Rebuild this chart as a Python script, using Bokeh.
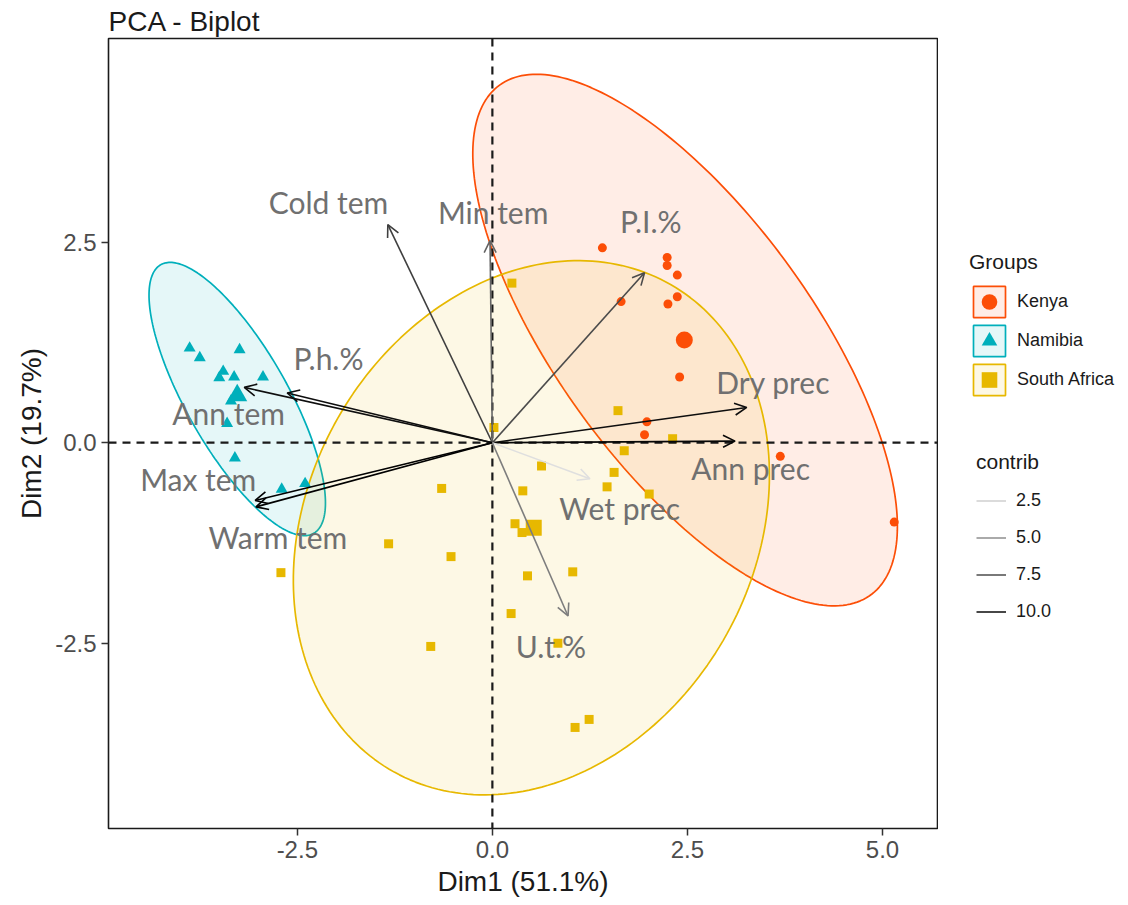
import numpy as np
from bokeh.plotting import figure
from bokeh.layouts import row
from bokeh.models import (Range1d, FixedTicker, PrintfTickFormatter, Span, Arrow, OpenHead,
                          Legend, LegendItem)
from bokeh.core.properties import value
from bokeh.embed import file_html
from bokeh.resources import INLINE

# ---------------- data ----------------
groups = ["Kenya", "Namibia", "South Africa"]
group_colors = ["#FC4E07", "#00AFBB", "#E7B800"]
group_markers = ["circle", "triangle", "square"]

kenya_x = [1.41, 2.24, 2.24, 2.37, 1.65, 2.25, 2.37, 2.40, 1.98, 1.95, 3.69, 5.15]
kenya_y = [2.43, 2.31, 2.21, 2.09, 1.76, 1.73, 1.82, 0.82, 0.26, 0.10, -0.17, -0.99]

namibia_x = [-3.88, -3.75, -3.24, -3.45, -3.50, -3.31, -2.94, -3.35, -3.40, -3.30, -2.70, -2.40]
namibia_y = [1.18, 1.06, 1.16, 0.89, 0.81, 0.82, 0.82, 0.52, 0.24, -0.19, -0.58, -0.51]

sa_x = [0.25, 0.02, 1.61, 2.31, 1.69, 0.63, 1.56, 1.47, 2.01, -0.65, 0.39, 0.29,
        0.38, -1.33, -0.53, -2.71, 0.45, 1.03, 0.24, -0.79, 0.84, 1.06, 1.24]
sa_y = [1.99, 0.19, 0.40, 0.05, -0.10, -0.29, -0.37, -0.55, -0.64, -0.57, -0.60, -1.01,
        -1.12, -1.26, -1.42, -1.62, -1.66, -1.61, -2.13, -2.54, -2.50, -3.55, -3.45]

group_mean_x = [2.46, -3.27, 0.53]
group_mean_y = [1.28, 0.59, -1.06]

# concentration ellipses: centre, semi-axes, angle (degrees)
ell_cx = [2.47, -3.27, 0.50]
ell_cy = [1.28, 0.545, -1.06]
ell_a = [3.97, 1.94, 3.52]
ell_b = [1.62, 0.645, 2.83]
ell_angle = [-52.9, -59.5, 57.0]

variables = ["Cold tem", "Min tem", "P.I.%", "P.h.%", "Ann tem", "Max tem",
             "Warm tem", "Dry prec", "Ann prec", "Wet prec", "U.t.%"]
var_x = [-1.34, -0.03, 1.95, -2.63, -3.18, -3.04, -3.03, 3.26, 3.11, 1.25, 0.97]
var_y = [2.72, 2.52, 2.12, 0.62, 0.69, -0.72, -0.80, 0.44, 0.02, -0.45, -2.16]
var_contrib = [8.5, 7.0, 8.0, 10.5, 10.5, 11.0, 11.0, 10.5, 10.8, 2.0, 6.0]
label_x = [-2.10, 0.01, 2.03, -2.10, -3.38, -3.77, -2.75, 3.60, 3.31, 1.63, 0.75]
label_y = [3.00, 2.88, 2.77, 1.06, 0.37, -0.45, -1.18, 0.76, -0.32, -0.82, -2.54]

contrib_levels = [2.5, 5.0, 7.5, 10.0]

x_ticks = [-2.5, 0.0, 2.5, 5.0]
y_ticks = [-2.5, 0.0, 2.5]


def contrib_color(v):
    g = 211 - (v - 2.5) * (211 - 26) / 7.5
    g = int(max(0, min(255, round(g))))
    return "#%02x%02x%02x" % (g, g, g)


def ellipse_xy(i):
    t = np.linspace(0, 2 * np.pi, 240)
    th = np.deg2rad(ell_angle[i])
    ex = ell_cx[i] + ell_a[i] * np.cos(t) * np.cos(th) - ell_b[i] * np.sin(t) * np.sin(th)
    ey = ell_cy[i] + ell_a[i] * np.cos(t) * np.sin(th) + ell_b[i] * np.sin(t) * np.cos(th)
    return ex, ey


# ---------------- main figure ----------------
p = figure(width=938, height=905, output_backend="svg", toolbar_location=None,
           x_range=Range1d(-4.92, 5.705), y_range=Range1d(-4.81, 5.04),
           min_border_left=108, min_border_right=1, min_border_top=38, min_border_bottom=77,
           title="PCA - Biplot")
p.title.text_font = "Liberation Sans"
p.title.text_font_size = "28px"
p.title.text_font_style = "normal"
p.title.text_color = "#1a1a1a"
p.title.standoff = 3
p.title.offset = 0

p.xgrid.visible = False
p.ygrid.visible = False
p.outline_line_color = "#1a1a1a"
p.outline_line_width = 1.6
p.background_fill_color = "white"

for ax in (p.xaxis[0], p.yaxis[0]):
    ax.axis_line_color = None
    ax.major_tick_line_color = "#333333"
    ax.major_tick_line_width = 1.5
    ax.major_tick_out = 7
    ax.major_tick_in = 0
    ax.minor_tick_line_color = None
    ax.major_label_text_font = "Liberation Sans"
    ax.major_label_text_font_size = "24px"
    ax.major_label_text_color = "#4D4D4D"
    ax.axis_label_text_font = "Liberation Sans"
    ax.axis_label_text_font_size = "28px"
    ax.axis_label_text_font_style = "normal"
    ax.axis_label_text_color = "#1a1a1a"
    ax.formatter = PrintfTickFormatter(format="%.1f")

p.xaxis[0].ticker = FixedTicker(ticks=x_ticks)
p.yaxis[0].ticker = FixedTicker(ticks=y_ticks)
p.xaxis[0].axis_label = "Dim1 (51.1%)"
p.yaxis[0].axis_label = "Dim2 (19.7%)"

# reference lines
p.add_layout(Span(location=0, dimension="height", line_color="#1a1a1a", line_width=2.2, line_dash="8 6"))
p.add_layout(Span(location=0, dimension="width", line_color="#1a1a1a", line_width=2.2, line_dash="8 6"))

# ellipses
for i in range(3):
    ex, ey = ellipse_xy(i)
    p.patch(ex, ey, fill_color=group_colors[i], fill_alpha=0.1,
            line_color=group_colors[i], line_width=1.7)

# individuals
pts_x = [kenya_x, namibia_x, sa_x]
pts_y = [kenya_y, namibia_y, sa_y]
pt_sizes = [9, 12, 9]
mean_sizes = [17, 20, 16]
for i in range(3):
    p.scatter(pts_x[i], pts_y[i], marker=group_markers[i], size=pt_sizes[i],
              fill_color=group_colors[i], line_color=group_colors[i], line_width=0)
    p.scatter([group_mean_x[i]], [group_mean_y[i]], marker=group_markers[i], size=mean_sizes[i],
              fill_color=group_colors[i], line_color=group_colors[i], line_width=0)

# variable arrows
for vx, vy, c in zip(var_x, var_y, var_contrib):
    col = contrib_color(c)
    p.add_layout(Arrow(end=OpenHead(size=12, line_color=col, line_width=1.6),
                       x_start=0, y_start=0, x_end=vx, y_end=vy,
                       line_color=col, line_width=1.6))

p.text(x=label_x, y=label_y, text=variables, text_font=value("Lato"),
       text_font_size="30px", text_color="#707070", text_align="center",
       text_baseline="middle")

# ---------------- legend panel ----------------
lf = figure(width=190, height=905, output_backend="svg", toolbar_location=None,
            x_range=Range1d(0, 1), y_range=Range1d(0, 1),
            min_border_left=0, min_border_right=0, min_border_top=0, min_border_bottom=0,
            x_axis_location=None, y_axis_location=None)
lf.xgrid.visible = False
lf.ygrid.visible = False
lf.outline_line_color = None

grp_items = []
for i in range(3):
    ex, ey = ellipse_xy(i)
    rp = lf.patch(ex, ey, fill_color=group_colors[i], fill_alpha=0.1,
                  line_color=group_colors[i], line_width=1.7, visible=False)
    rs = lf.scatter(pts_x[i], pts_y[i], marker=group_markers[i], fill_color=group_colors[i],
                    line_color=group_colors[i], line_width=0, visible=False)
    grp_items.append(LegendItem(label=groups[i], renderers=[rp, rs]))

leg1 = Legend(items=grp_items, location=(31, 429), title="Groups",
              glyph_width=40, glyph_height=39, spacing=0, padding=0, margin=0,
              label_standoff=8, title_standoff=8,
              label_text_font="Liberation Sans", label_text_font_size="18px", label_text_color="#1a1a1a",
              title_text_font="Liberation Sans", title_text_font_size="21px",
              title_text_font_style="normal", title_text_color="#1a1a1a",
              border_line_color=None, background_fill_alpha=0)
lf.add_layout(leg1)

con_items = []
for lv in contrib_levels:
    r = lf.line(x=contrib_levels, y=contrib_levels, line_color=contrib_color(lv),
                line_width=1.6, visible=False)
    con_items.append(LegendItem(label="%.1f" % lv, renderers=[r]))
leg2 = Legend(items=con_items, location=(38, 198), title="contrib",
              glyph_width=30, glyph_height=37, spacing=0, padding=0, margin=0,
              label_standoff=10, title_standoff=8,
              label_text_font="Liberation Sans", label_text_font_size="18px", label_text_color="#1a1a1a",
              title_text_font="Liberation Sans", title_text_font_size="21px",
              title_text_font_style="normal", title_text_color="#1a1a1a",
              border_line_color=None, background_fill_alpha=0)
lf.add_layout(leg2)

layout = row(p, lf)
open("out.html", "w").write(file_html(layout, INLINE))
